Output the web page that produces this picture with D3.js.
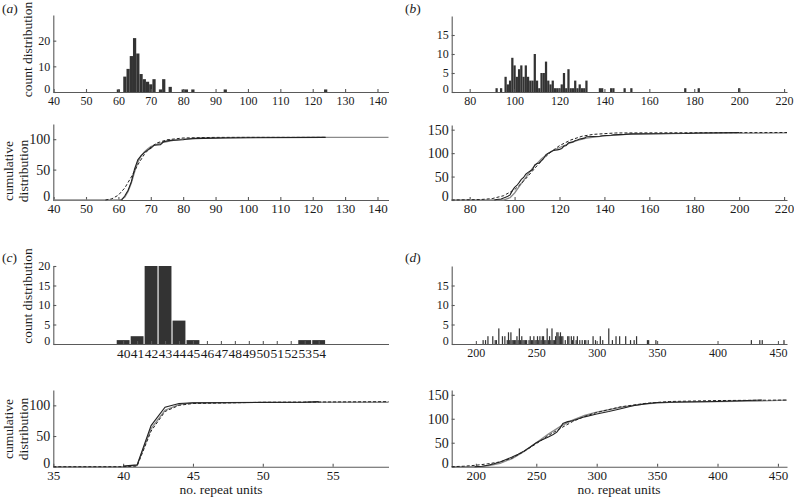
<!DOCTYPE html>
<html><head><meta charset="utf-8">
<script src="https://cdn.jsdelivr.net/npm/d3@7"></script>
<style>
body{margin:0;background:#fff;}
svg{display:block;font-family:"Liberation Serif","Times New Roman",serif;}
</style></head><body>
<svg id="chart" width="794" height="497" font-family="Liberation Serif, Times New Roman, serif"></svg>
<script>
// ---------- data ----------
// (a) histogram
const histA_x = [60,62,63,64,65,66,67,68,69,70,71,73,74,76,80,81,83,93,124];
const histA_y = [1,6,9,14,21,15,7,5,4,3,5,1,5,2,1,1,1,1,1];
// (a) cumulative
const cumA_data_x = [61,62,63,64,65,66,67,68,69,70,71,73,74,76,80,81,83,93,124];
const cumA_data_y = [0,7,16,30,51,66,73,78,82,85,90,91,96,98,99,100,101,102,103];
const cumA_grey_x = [40,60,61,62,63,64,65,66,67,68,69,70,72,74,77,80,85,100,143.4];
const cumA_grey_y = [0,0,1,5,14,28,46,62,72,79,84,88,92,95,98,100,102,103,103];
const cumA_dash_x = [56,58,60,62,64,66,68,70,72,75,80,90,124];
const cumA_dash_y = [0,2,8,20,38,58,75,87,94,99,102,103,103];

// (b) histogram
const histB_x = [92,94,96,97,98,99,100,101,102,103,104,105,106,107,108,109,110,111,112,113,114,115,116,117,118,119,120,121,122,123,124,125,126,127,128,129,130,131,132,138,139,143,144,149,152,176,182,200];
const histB_y = [1,1,4,2,3,9,7,4,6,7,4,7,4,3,3,10,3,1,5,5,8,3,2,3,1,1,1,2,5,1,6,1,1,3,1,2,1,1,3,1,1,1,1,1,1,1,1,1];
// (b) cumulative
const cumB_data_x = [91,92,94,96,97,98,99,100,101,102,103,104,105,106,107,108,109,110,111,112,113,114,115,116,117,118,119,120,121,122,123,124,125,126,127,128,129,130,131,132,138,139,143,144,149,152,176,182,200];
const cumB_data_y = [0,1,2,6,8,11,20,27,31,37,44,48,55,59,62,65,75,78,79,84,89,97,100,102,105,106,107,108,110,115,116,122,123,124,127,128,130,131,132,135,136,137,138,139,140,141,142,143,144];
const cumB_grey_x = [72,95,98,100,104,108,112,116,120,124,128,132,140,150,170,221.3];
const cumB_grey_y = [0,0,5,15,42,68,88,103,112,120,127,132,137,140,142,143];
const cumB_dash_x = [72,85,90,95,100,104,108,112,116,120,125,130,135,145,221.3];
const cumB_dash_y = [0,1,3,9,22,40,62,84,102,116,128,136,140,143,144];

// (c) histogram (bars at 42 and 43 exceed the axis and are clipped)
const histC_x = [40,41,42,43,44,45,53,54];
const histC_y = [1,2,64,30,6,1,1,1];
const histC_ticks = [40,41,42,43,44,45,46,47,48,49,50,51,52,53,54];
// (c) cumulative
const cumC_data_x = [40,41,42,43,44,45,53,54];
const cumC_data_y = [1,3,67,97,103,104,105,106];
const cumC_grey_x = [35,40,41,42,43,44,45,50,59];
const cumC_grey_y = [0,0,2,62,92,101,104,105,105];
const cumC_dash_x = [35,40,41,42,43,44,45,50,59];
const cumC_dash_y = [0,0,1,58,90,100,103,105,106];

// (d) histogram
const histD_x = [206,208,210,214,216,217,219,222,224,226,227,228,229,230,231,232,233,234,235,236,237,238,239,240,241,242,244,245,246,247,248,249,250,251,252,253,254,255,256,257,258,259,260,261,262,263,264,265,266,267,268,269,270,271,272,274,276,277,279,280,281,283,284,286,288,290,291,293,297,299,303,305,310,313,316,319,324,328,331,333,342,343,349,428,435,437,455];
const histD_y = [1,1,2,2,1,1,4,2,2,1,3,1,3,1,1,1,1,2,1,4,1,2,1,1,1,1,1,2,1,1,2,1,1,2,1,2,1,2,2,1,1,4,1,2,1,4,1,1,2,3,3,2,3,2,2,1,2,2,2,1,2,1,2,1,1,1,1,1,2,1,2,1,4,1,2,2,2,1,1,2,1,1,1,1,1,1,1];
// (d) cumulative
const cumD_data_x = [199,205,210,215,220,225,230,235,240,245,250,255,260,264,267,270,272,276,280,290,300,310,320,330,340,350,370,400,437];
const cumD_data_y = [0,1,3,6,10,15,20,26,33,41,50,56,62,67,72,82,90,94,96,104,110,115,121,127,131,134,135,136,139];
const cumD_grey_x = [180,205,210,220,230,240,250,260,270,280,290,300,320,340,360,400,430,457.5];
const cumD_grey_y = [0,0,2,7,17,32,50,68,84,97,107,114,124,131,134,136,137,139];
const cumD_dash_x = [180,190,200,210,220,230,240,250,260,270,280,290,300,320,340,360,400,457.5];
const cumD_dash_y = [0,1,3,6,10,18,32,48,65,80,94,105,113,125,132,136,138,139];

// tick values
const ticksA_x = [40,50,60,70,80,90,100,110,120,130,140];
const ticksB_x = [80,100,120,140,160,180,200,220];
const ticksC_x = [35,40,45,50,55];
const ticksD_x = [200,250,300,350,400,450];

// ---------- drawing ----------
const svg = d3.select("#chart");
const AX = "#5a5a5a", BAR = "#333333", TXT = "#1a1a1a";

function makeAxes(g, x, y, xt, yt, fx, fy, padX, zeroUp) {
  const gx = g.append("g").attr("transform", `translate(0,${y.range()[0]})`)
    .call(d3.axisBottom(x).tickValues(xt).tickSizeInner(-3).tickSizeOuter(0).tickPadding(padX));
  const gy = g.append("g").attr("transform", `translate(${x.range()[0]},0)`)
    .call(d3.axisLeft(y).tickValues(yt).tickSizeInner(-3).tickSizeOuter(0).tickPadding(3));
  [[gx, fx], [gy, fy]].forEach(([a, f]) => {
    a.attr("font-family", null).attr("font-size", f);
    a.selectAll("path,line").attr("stroke", AX).attr("stroke-width", 1.1);
    a.selectAll("text").attr("fill", TXT);
  });
  // the zero label sits slightly above the baseline, as in the original
  gy.selectAll(".tick text").filter(d => d === 0).attr("y", -zeroUp);
}

function histPanel(x, y, xs, ys, w, xt, yt, fx, fy) {
  const g = svg.append("g");
  g.selectAll("rect").data(xs.map((v, i) => [v, ys[i]])).join("rect")
    .attr("x", d => x(d[0] - w / 2))
    .attr("width", d => x(d[0] + w / 2) - x(d[0] - w / 2))
    .attr("y", d => y(d[1]))
    .attr("height", d => y(0) - y(d[1]))
    .attr("fill", BAR);
  makeAxes(g, x, y, xt, yt, fx, fy, 4, 3);
}

function cumPanel(x, y, lines, xt, yt, fx, fy, padX) {
  const g = svg.append("g");
  makeAxes(g, x, y, xt, yt, fx, fy, padX, 4);
  lines.forEach(L => {
    const pts = L.xs.map((v, i) => [v, L.ys[i]]);
    g.append("path").attr("d", d3.line().x(d => x(d[0])).y(d => y(d[1]))(pts))
      .attr("fill", "none").attr("stroke", L.c).attr("stroke-width", L.w)
      .attr("stroke-dasharray", L.dash || null);
  });
}

const L0 = 53.3, L1 = 388.5, R0 = 451.7, R1 = 787;

// scales
const xA = d3.scaleLinear().domain([39.9, 143.4]).range([L0, L1]);
const xB = d3.scaleLinear().domain([72, 221.3]).range([R0, R1]);
const xC = d3.scaleLinear().domain([35, 59]).range([L0, L1]);
const xD = d3.scaleLinear().domain([180, 457.5]).range([R0, R1]);

const yHA = d3.scaleLinear().domain([0, 30]).range([92, 15]);
const yHB = d3.scaleLinear().domain([0, 20]).range([92, 16]);
const yHC = d3.scaleLinear().domain([0, 20]).range([344, 266]).clamp(true);
const yHD = d3.scaleLinear().domain([0, 20]).range([344, 266]);

const yCA = d3.scaleLinear().domain([0, 125]).range([200, 124]);
const yCB = d3.scaleLinear().domain([0, 160]).range([200, 125]);
const yCC = d3.scaleLinear().domain([0, 125]).range([466.7, 390]);
const yCD = d3.scaleLinear().domain([0, 160]).range([466.7, 390]);

const HX = 12, HY = 12, CX = 13, CY = 14;

histPanel(xA, yHA, histA_x, histA_y, 1, ticksA_x, [0, 10, 20], HX, HY);
histPanel(xB, yHB, histB_x, histB_y, 1, ticksB_x, [0, 5, 10, 15], HX, HY);
histPanel(xC, yHC, histC_x, histC_y, 0.92, histC_ticks, [0, 5, 10, 15, 20], 13.5, HY);
histPanel(xD, yHD, histD_x, histD_y, 1, ticksD_x, [0, 5, 10, 15], HX, HY);

const G = "#8a8a8a", K = "#222";
cumPanel(xA, yCA, [
  {xs: cumA_grey_x, ys: cumA_grey_y, c: G, w: 1.3},
  {xs: cumA_dash_x, ys: cumA_dash_y, c: K, w: 1, dash: "3,2"},
  {xs: cumA_data_x, ys: cumA_data_y, c: K, w: 1.1}
], ticksA_x, [0, 50, 100], CX, CY, 4);
cumPanel(xB, yCB, [
  {xs: cumB_grey_x, ys: cumB_grey_y, c: G, w: 1.3},
  {xs: cumB_dash_x, ys: cumB_dash_y, c: K, w: 1, dash: "3,2"},
  {xs: cumB_data_x, ys: cumB_data_y, c: K, w: 1.1}
], ticksB_x, [0, 50, 100, 150], CX, CY, 4);
cumPanel(xC, yCC, [
  {xs: cumC_grey_x, ys: cumC_grey_y, c: G, w: 1.3},
  {xs: cumC_dash_x, ys: cumC_dash_y, c: K, w: 1, dash: "3,2"},
  {xs: cumC_data_x, ys: cumC_data_y, c: K, w: 1.1}
], ticksC_x, [0, 50, 100], CX, CY, 4);
cumPanel(xD, yCD, [
  {xs: cumD_grey_x, ys: cumD_grey_y, c: G, w: 1.3},
  {xs: cumD_dash_x, ys: cumD_dash_y, c: K, w: 1, dash: "3,2"},
  {xs: cumD_data_x, ys: cumD_data_y, c: K, w: 1.1}
], ticksD_x, [0, 50, 100, 150], CX, CY, 4);

// ---------- text labels ----------
function vtext(x, y, s) {
  svg.append("text").attr("transform", `translate(${x},${y}) rotate(-90)`)
    .attr("text-anchor", "middle").attr("dy", "0.35em")
    .attr("font-size", 13.5).attr("fill", TXT).text(s);
}
vtext(27, 49.5, "count distribution");
vtext(27, 296, "count distribution");
vtext(8, 171, "cumulative");
vtext(23, 171, "distribution");
vtext(8, 429, "cumulative");
vtext(23, 429, "distribution");

[[221, "no. repeat units"], [619, "no. repeat units"]].forEach(([x, s]) =>
  svg.append("text").attr("x", x).attr("y", 494).attr("text-anchor", "middle")
    .attr("font-size", 13.5).attr("fill", TXT).text(s));

[[2, 13, "a"], [405, 13, "b"], [2, 262, "c"], [405, 262, "d"]].forEach(([x, y, s]) => {
  const t = svg.append("text").attr("x", x).attr("y", y).attr("font-size", 13.5).attr("fill", TXT);
  t.append("tspan").text("(");
  t.append("tspan").attr("font-style", "italic").text(s);
  t.append("tspan").text(")");
});
</script>
</body></html>
